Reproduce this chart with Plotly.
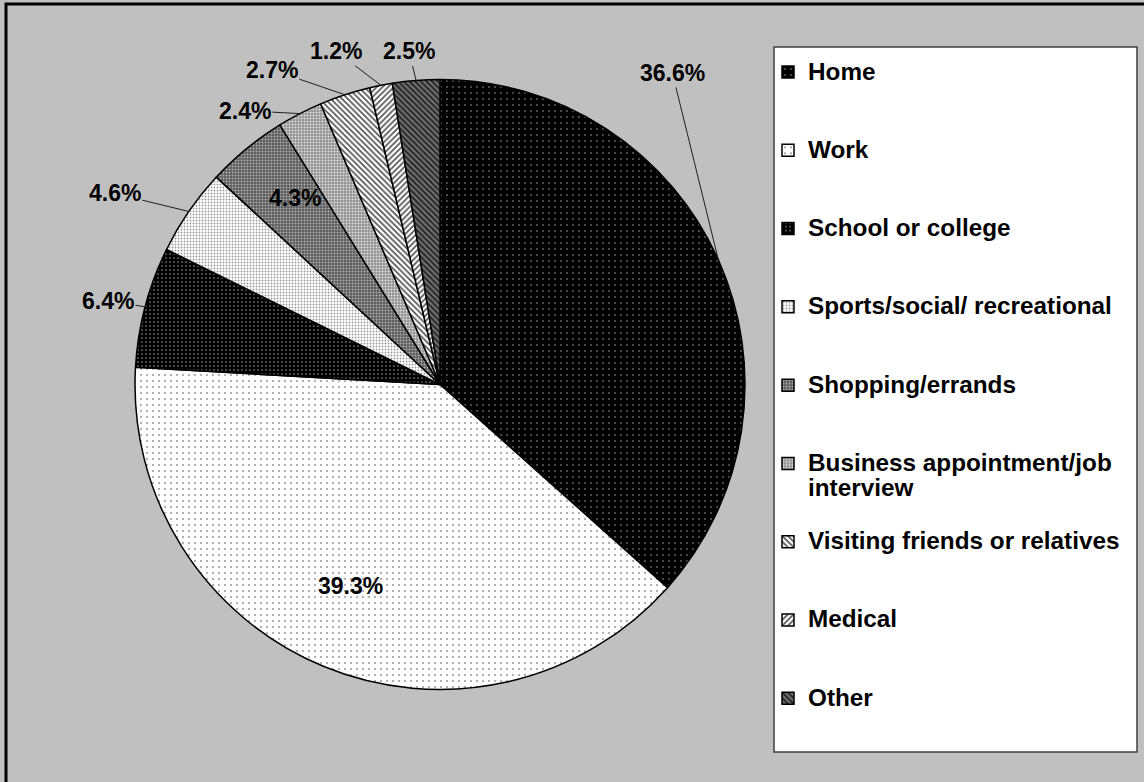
import math
import plotly.graph_objects as go

# ---------------- data ----------------
CATEGORIES = [
    "Home",
    "Work",
    "School or college",
    "Sports/social/ recreational",
    "Shopping/errands",
    "Business appointment/job interview",
    "Visiting friends or relatives",
    "Medical",
    "Other",
]
SHARES = [36.6, 39.3, 6.4, 4.6, 4.3, 2.4, 2.7, 1.2, 2.5]

# legend line wrapping (text only)
LEGEND_WRAP = {"Business appointment/job interview": ["Business appointment/job", "interview"]}

# ---------------- style ----------------
W, H = 1144, 782
CX, CY, R = 440, 384.5, 305          # pie centre / radius in pixels
FONT = "Arial, Liberation Sans, sans-serif"

PAT_SHAPE = [".", ".", ".", ".", ".", ".", "\\", "/", "\\"]
PAT_BG = ["#000000", "#ffffff", "#000000", "#ffffff", "#5a5a5a", "#929292", "#ffffff", "#ffffff", "#707070"]
PAT_FG = ["#c8c8c8", "#8a8a8a", "#8a8a8a", "#9a9a9a", "#b0b0b0", "#e0e0e0", "#505050", "#505050", "#202020"]
PAT_SIZE = [6, 6, 4, 3, 3, 3, 4, 4, 4]
PAT_SOLID = [0.04, 0.07, 0.14, 0.3, 0.35, 0.35, 0.4, 0.4, 0.45]

# label placement (style): inside flag, radius fraction for inside labels, pixel offsets
LABEL_INSIDE = [False, True, False, False, True, False, False, False, False]
LABEL_RFRAC = [1.0, 0.75, 1.0, 1.0, 0.87, 1.0, 1.0, 1.0, 1.0]
LABEL_OFFSET = [(-46, -187), (-36, 5), (-37, -6), (-74, -18), (-5, 3),
                (-55, -3), (-73, -25), (-45, -34), (-7, -29)]

# ---------------- figure ----------------
def legend_label(name):
    lines = LEGEND_WRAP.get(name, [name])
    parts = [f"<span style='font-size:24.3px'>{ln}</span>" for ln in lines]
    while len(parts) < 3:
        parts.append("\u00a0")
    return "<br>".join(parts)

labels = [legend_label(c) for c in CATEGORIES]

pie = go.Pie(
    labels=labels,
    values=SHARES,
    sort=False,
    direction="clockwise",
    rotation=0,
    textinfo="none",
    hoverinfo="none",
    marker=dict(
        colors=PAT_BG,
        line=dict(color="black", width=1.5),
        pattern=dict(shape=PAT_SHAPE, bgcolor=PAT_BG, fgcolor=PAT_FG,
                     size=PAT_SIZE, solidity=PAT_SOLID, fillmode="replace"),
    ),
    domain=dict(x=[(CX - R) / W, (CX + R) / W],
                y=[1 - (CY + R) / H, 1 - (CY - R) / H]),
)

fig = go.Figure(pie)

total = sum(SHARES)
annotations = []
cum = 0.0
for i, v in enumerate(SHARES):
    mid = (cum + v / 2) / total * 2 * math.pi
    cum += v
    rf = LABEL_RFRAC[i]
    px = CX + rf * R * math.sin(mid)
    py = CY - rf * R * math.cos(mid)
    dx, dy = LABEL_OFFSET[i]
    txt = f"{v:.1f}%"
    common = dict(xref="paper", yref="paper", text=txt,
                  font=dict(family=FONT, size=23, color="black", weight="bold"))
    if LABEL_INSIDE[i]:
        annotations.append(dict(x=(px + dx) / W, y=1 - (py + dy) / H,
                                showarrow=False, **common))
    else:
        annotations.append(dict(x=px / W, y=1 - py / H, ax=dx, ay=dy,
                                showarrow=True, arrowhead=0, arrowwidth=1,
                                arrowcolor="#202020", standoff=0, **common))

shapes = [
    # legend box
    dict(type="rect", xref="paper", yref="paper",
         x0=774 / W, x1=1137 / W, y0=1 - 752 / H, y1=1 - 47 / H,
         fillcolor="white", line=dict(color="#404040", width=1.5), layer="below"),
    # outer frame
    dict(type="rect", xref="paper", yref="paper",
         x0=6 / W, x1=1.02, y0=-0.02, y1=1 - 4 / H,
         fillcolor="rgba(0,0,0,0)", line=dict(color="black", width=3)),
]

fig.update_layout(
    width=W, height=H,
    margin=dict(l=0, r=0, t=0, b=0),
    paper_bgcolor="#C0C0C0",
    plot_bgcolor="#C0C0C0",
    showlegend=True,
    legend=dict(x=768 / W, xanchor="left", y=1 - 53 / H, yanchor="top",
                bgcolor="rgba(0,0,0,0)", borderwidth=0, valign="top",
                font=dict(family=FONT, size=19.3, color="black", weight="bold"),
                itemclick=False, itemdoubleclick=False),
    annotations=annotations,
    shapes=shapes,
)

fig.write_html("out.html",
               config={"displayModeBar": False},
               post_script="document.body.style.margin='0px';document.body.style.overflow='hidden';")
